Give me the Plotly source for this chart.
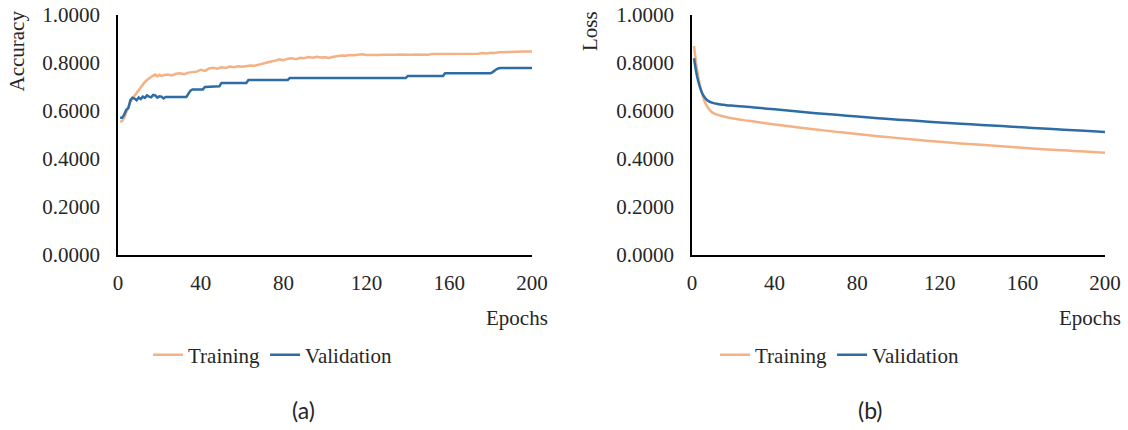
import plotly.graph_objects as go

# ---------------- data ----------------
acc_train_epochs = [1, 2, 3, 4, 5, 6, 7, 8, 9, 10, 11, 12, 13, 14, 15, 16, 17, 18, 19, 20,
                    21, 22, 24, 26, 28, 30, 32, 34, 36, 38, 40, 42, 44, 46, 48, 50, 52, 54,
                    56, 58, 60, 62, 64, 66, 68, 70, 72, 74, 76, 78, 80, 82, 84, 86, 88, 90,
                    92, 94, 96, 98, 100, 102, 104, 106, 108, 110, 112, 114, 116, 118, 120,
                    122, 124, 126, 128, 130, 132, 134, 136, 138, 140, 142, 144, 146, 148,
                    150, 152, 154, 156, 158, 160, 162, 164, 166, 168, 170, 172, 174, 176,
                    178, 180, 182, 184, 186, 188, 190, 192, 194, 196, 198, 200]
acc_train = [0.555, 0.558, 0.572, 0.595, 0.62, 0.638, 0.652, 0.664, 0.675, 0.688,
             0.700, 0.711, 0.721, 0.729, 0.736, 0.743, 0.748, 0.752, 0.744, 0.751,
             0.746, 0.749, 0.752, 0.748, 0.755, 0.757, 0.753, 0.760, 0.762, 0.764,
             0.772, 0.767, 0.777, 0.780, 0.776, 0.782, 0.779, 0.785, 0.782, 0.786,
             0.784, 0.788, 0.790, 0.789, 0.794, 0.797, 0.802, 0.806, 0.810, 0.815,
             0.812, 0.818, 0.820, 0.816, 0.822, 0.820, 0.825, 0.822, 0.826, 0.823,
             0.824, 0.821, 0.826, 0.830, 0.831, 0.830, 0.833, 0.832, 0.833, 0.836,
             0.833, 0.832, 0.834, 0.833, 0.834, 0.833, 0.834, 0.834, 0.835, 0.834,
             0.835, 0.834, 0.835, 0.835, 0.837, 0.834, 0.838, 0.838, 0.838, 0.839,
             0.838, 0.838, 0.839, 0.838, 0.839, 0.839, 0.840, 0.839, 0.842, 0.840,
             0.843, 0.842, 0.845, 0.846, 0.847, 0.847, 0.848, 0.848, 0.848, 0.848, 0.848]

acc_val_epochs = [1, 2, 3, 4, 5, 6, 7, 8, 9, 10, 11, 12, 13, 14, 15, 16, 17, 18, 19, 20,
                  21, 22, 23, 33, 34, 35, 36, 41, 42, 49, 50, 62, 63, 82, 83, 139, 140,
                  157, 158, 180, 181, 182, 183, 184, 185, 200]
acc_val = [0.572, 0.572, 0.585, 0.605, 0.612, 0.645, 0.655, 0.652, 0.645, 0.656,
           0.650, 0.660, 0.655, 0.665, 0.660, 0.657, 0.667, 0.665, 0.656, 0.661,
           0.660, 0.652, 0.658, 0.658, 0.672, 0.685, 0.690, 0.690, 0.700, 0.703,
           0.717, 0.717, 0.729, 0.729, 0.737, 0.737, 0.746, 0.746, 0.757, 0.757,
           0.762, 0.770, 0.775, 0.778, 0.779, 0.779]

loss_epochs = [1, 2, 3, 4, 5, 6, 7, 8, 9, 10, 12, 14, 16, 18, 20, 25, 30, 40, 50, 60,
               70, 80, 90, 100, 110, 120, 130, 140, 150, 160, 170, 180, 190, 200]
loss_train = [0.870, 0.800, 0.745, 0.700, 0.668, 0.642, 0.624, 0.610, 0.600, 0.593,
              0.585, 0.580, 0.576, 0.572, 0.569, 0.562, 0.556, 0.544, 0.533, 0.523,
              0.513, 0.504, 0.495, 0.487, 0.479, 0.472, 0.465, 0.459, 0.453, 0.447,
              0.441, 0.436, 0.431, 0.426]
loss_val = [0.820, 0.765, 0.725, 0.695, 0.673, 0.658, 0.648, 0.641, 0.637, 0.634,
            0.630, 0.627, 0.625, 0.623, 0.622, 0.619, 0.615, 0.607, 0.599, 0.591,
            0.584, 0.577, 0.570, 0.564, 0.558, 0.552, 0.547, 0.542, 0.537, 0.532,
            0.527, 0.522, 0.518, 0.513]

x_ticks = [0, 40, 80, 120, 160, 200]
y_ticks = [0.0, 0.2, 0.4, 0.6, 0.8, 1.0]
series_names = ["Training", "Validation"]
caption_labels = ["(a)", "(b)"]
y_titles = ["Accuracy", "Loss"]
x_title = "Epochs"

# ---------------- style ----------------
W, H = 1128, 430
ORANGE = "#F4B183"
BLUE = "#2E6DA4"
SERIF = "Liberation Serif"
FS = 21
TXT = "#262626"

def px_x(v):
    return v / W

def px_y(v):
    return 1 - v / H

fig = go.Figure()

fig.add_trace(go.Scatter(x=acc_train_epochs, y=acc_train, name=series_names[0], mode="lines",
                         line=dict(color=ORANGE, width=2.5), xaxis="x", yaxis="y", legend="legend"))
fig.add_trace(go.Scatter(x=acc_val_epochs, y=acc_val, name=series_names[1], mode="lines",
                         line=dict(color=BLUE, width=2.5), xaxis="x", yaxis="y", legend="legend"))
fig.add_trace(go.Scatter(x=loss_epochs, y=loss_train, name=series_names[0], mode="lines",
                         line=dict(color=ORANGE, width=2.5, shape="spline"), xaxis="x2", yaxis="y2",
                         legend="legend2"))
fig.add_trace(go.Scatter(x=loss_epochs, y=loss_val, name=series_names[1], mode="lines",
                         line=dict(color=BLUE, width=2.5, shape="spline"), xaxis="x2", yaxis="y2",
                         legend="legend2"))

ydom = [px_y(255), px_y(15)]

def xaxis_cfg(dom, anchor):
    return dict(domain=dom, anchor=anchor, range=[0, 200], tickvals=x_ticks,
                showline=True, linecolor="black", linewidth=1.5, showgrid=False,
                zeroline=False, ticks="outside", ticklen=8, tickcolor="rgba(0,0,0,0)",
                automargin=False, ticklabeloverflow="allow",
                tickfont=dict(family=SERIF, size=FS, color=TXT))

def yaxis_cfg(anchor):
    return dict(domain=ydom, anchor=anchor, range=[0, 1], tickvals=y_ticks,
                tickformat=".4f", showline=True, linecolor="black", linewidth=1.5,
                showgrid=False, zeroline=False, ticks="outside", ticklen=12,
                automargin=False, ticklabeloverflow="allow",
                tickcolor="rgba(0,0,0,0)", tickfont=dict(family=SERIF, size=FS, color=TXT))

annotations = []
for i, (xl, xr) in enumerate([(118, 532), (692, 1105)]):
    annotations.append(dict(text=y_titles[i], textangle=-90, xref="paper", yref="paper",
                            x=px_x(xl - 88), y=px_y(9), xanchor="right", yanchor="top",
                            showarrow=False, font=dict(family=SERIF, size=FS, color=TXT)))
    annotations.append(dict(text=x_title, xref="paper", yref="paper",
                            x=px_x(xr + 18), y=px_y(318), xanchor="right", yanchor="middle",
                            showarrow=False, font=dict(family=SERIF, size=FS, color=TXT)))
    annotations.append(dict(text=caption_labels[i], xref="paper", yref="paper",
                            x=px_x(303 if i == 0 else 870), y=px_y(410), xanchor="center",
                            yanchor="middle", showarrow=False,
                            font=dict(family="Lato", size=23, color=TXT)))

legend_common = dict(orientation="h", xanchor="left", yanchor="middle",
                     font=dict(family=SERIF, size=FS, color=TXT), bgcolor="rgba(0,0,0,0)",
                     itemwidth=30, tracegroupgap=0, traceorder="normal")

fig.update_layout(
    width=W, height=H,
    margin=dict(l=0, r=0, t=0, b=0, autoexpand=False),
    paper_bgcolor="white", plot_bgcolor="white",
    xaxis=xaxis_cfg([px_x(118), px_x(532)], "y"),
    yaxis=yaxis_cfg("x"),
    xaxis2=xaxis_cfg([px_x(692), px_x(1105)], "y2"),
    yaxis2=yaxis_cfg("x2"),
    legend=dict(x=px_x(148), y=px_y(355), **legend_common),
    legend2=dict(x=px_x(715), y=px_y(355), **legend_common),
    annotations=annotations,
    showlegend=True,
)

fig.write_html("out.html", config={"displayModeBar": False},
               post_script="document.body.style.margin='0';document.body.style.overflow='hidden';")
